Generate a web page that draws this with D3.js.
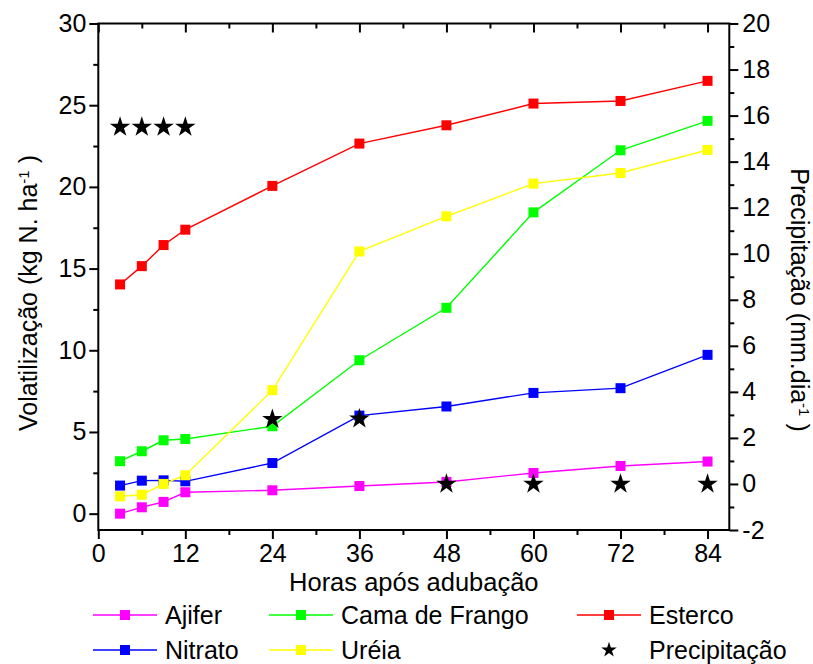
<!DOCTYPE html>
<html>
<head>
<meta charset="utf-8">
<script src="https://cdn.jsdelivr.net/npm/d3@7"></script>
<style>
  body { margin: 0; background: #fff; }
  svg { display: block; font-family: "Liberation Sans", Arial, sans-serif; }
</style>
</head>
<body>
<svg id="chart" width="813" height="664"></svg>
<script>
const width = 813;
const height = 664;
const margin = { top: 23.5, right: 84, bottom: 134, left: 98.3 };

// horas após adubação
const horas = [3, 6, 9, 12, 24, 36, 48, 60, 72, 84];
const ajifer = [0, 0.39, 0.72, 1.31, 1.43, 1.69, 1.94, 2.49, 2.92, 3.19];
const camaFrango = [3.21, 3.82, 4.49, 4.57, 5.35, 9.39, 12.6, 18.44, 22.24, 24.04];
const esterco = [14.03, 15.15, 16.44, 17.38, 20.06, 22.65, 23.77, 25.1, 25.26, 26.49];
const nitrato = [1.72, 2.02, 2.04, 1.98, 3.1, 6.0, 6.56, 7.39, 7.68, 9.72];
const ureia = [1.06, 1.16, 1.82, 2.35, 7.56, 16.05, 18.2, 20.2, 20.85, 22.26];
const precipitacao = [15.5, 15.5, 15.5, 15.5, 2.81, 2.83, 0, 0, 0, 0];

const xTicks = [0, 12, 24, 36, 48, 60, 72, 84];
const xMinor = [6, 18, 30, 42, 54, 66, 78];
const yTicks = [0, 5, 10, 15, 20, 25, 30];
const yMinor = [2.5, 7.5, 12.5, 17.5, 22.5, 27.5];
const y2Ticks = [-2, 0, 2, 4, 6, 8, 10, 12, 14, 16, 18, 20];
const y2Minor = [-1, 1, 3, 5, 7, 9, 11, 13, 15, 17, 19];

const series = [
  { name: "Ajifer", values: ajifer, color: "#ff00ff" },
  { name: "Cama de Frango", values: camaFrango, color: "#00ff00" },
  { name: "Esterco", values: esterco, color: "#ff0000" },
  { name: "Nitrato", values: nitrato, color: "#0000ff" },
  { name: "Uréia", values: ureia, color: "#ffff00" }
];

const svg = d3.select("#chart");
const plotR = 729.3;
const plotB = 530;

const x = d3.scaleLinear().domain([0, 87]).range([margin.left, plotR]);
const y = d3.scaleLinear().domain([-1, 30]).range([plotB, margin.top]);
const y2 = d3.scaleLinear().domain([-2, 20]).range([plotB, margin.top]);

const styleAxis = g => {
  g.select(".domain").remove();
  g.selectAll(".tick line").attr("stroke", "#000").attr("stroke-width", 2);
  g.selectAll(".tick text")
    .attr("fill", "#000")
    .style("font-size", "25px")
    .style("font-family", "'Liberation Sans', Arial, sans-serif");
};

// eixo inferior
svg.append("g")
  .attr("transform", `translate(0,${plotB})`)
  .call(d3.axisBottom(x).tickValues(xTicks).tickSize(9).tickPadding(5))
  .call(styleAxis);
svg.append("g")
  .attr("transform", `translate(0,${plotB})`)
  .call(d3.axisBottom(x).tickValues(xMinor).tickSize(5).tickFormat(""))
  .call(styleAxis);

// eixo superior (ticks para dentro)
svg.append("g")
  .attr("transform", `translate(0,${margin.top})`)
  .call(d3.axisBottom(x).tickValues(xTicks).tickSize(9).tickFormat(""))
  .call(styleAxis);
svg.append("g")
  .attr("transform", `translate(0,${margin.top})`)
  .call(d3.axisBottom(x).tickValues(xMinor).tickSize(5).tickFormat(""))
  .call(styleAxis);

// eixo esquerdo
svg.append("g")
  .attr("transform", `translate(${margin.left},0)`)
  .call(d3.axisLeft(y).tickValues(yTicks).tickSize(9).tickPadding(3))
  .call(styleAxis);
svg.append("g")
  .attr("transform", `translate(${margin.left},0)`)
  .call(d3.axisLeft(y).tickValues(yMinor).tickSize(5).tickFormat(""))
  .call(styleAxis);

// eixo direito
svg.append("g")
  .attr("transform", `translate(${plotR},0)`)
  .call(d3.axisRight(y2).tickValues(y2Ticks).tickSize(9).tickPadding(4)
    .tickFormat(d => d < 0 ? "-" + Math.abs(d) : d))
  .call(styleAxis);
svg.append("g")
  .attr("transform", `translate(${plotR},0)`)
  .call(d3.axisRight(y2).tickValues(y2Minor).tickSize(5).tickFormat(""))
  .call(styleAxis);

// moldura
svg.append("rect")
  .attr("x", margin.left)
  .attr("y", margin.top)
  .attr("width", plotR - margin.left)
  .attr("height", plotB - margin.top)
  .attr("fill", "none")
  .attr("stroke", "#000")
  .attr("stroke-width", 2);

// títulos dos eixos
svg.append("text")
  .attr("x", (margin.left + plotR) / 2)
  .attr("y", 591)
  .attr("text-anchor", "middle")
  .style("font-size", "25.5px")
  .text("Horas após adubação");

const yTitle = svg.append("text")
  .attr("transform", "translate(37,293) rotate(-90)")
  .attr("text-anchor", "middle")
  .style("font-size", "25px");
yTitle.append("tspan").text("Volatilização (kg N. ha");
yTitle.append("tspan").attr("dy", "-0.55em").style("font-size", "15px").text("-1");
yTitle.append("tspan").attr("dy", "0.33em").text(" )");

const y2Title = svg.append("text")
  .attr("transform", "translate(791,300) rotate(90)")
  .attr("text-anchor", "middle")
  .style("font-size", "25px");
y2Title.append("tspan").text("Precipitação (mm.dia");
y2Title.append("tspan").attr("dy", "-0.55em").style("font-size", "15px").text("-1");
y2Title.append("tspan").attr("dy", "0.33em").text(" )");

// séries
const line = d3.line().x((d, i) => x(horas[i])).y(d => y(d));
const sq = 10;

series.forEach(s => {
  svg.append("path")
    .datum(s.values)
    .attr("d", line)
    .attr("fill", "none")
    .attr("stroke", s.color)
    .attr("stroke-width", 1.4);
});
series.forEach(s => {
  svg.append("g").selectAll("rect")
    .data(s.values)
    .join("rect")
    .attr("x", (d, i) => x(horas[i]) - sq / 2)
    .attr("y", d => y(d) - sq / 2)
    .attr("width", sq)
    .attr("height", sq)
    .attr("fill", s.color);
});

// precipitação (estrelas)
const star = d3.symbol().type(d3.symbolStar).size(130);
svg.append("g").selectAll("path")
  .data(precipitacao)
  .join("path")
  .attr("d", star)
  .attr("transform", (d, i) => `translate(${x(horas[i])},${y2(d)})`)
  .attr("fill", "#000");

// legenda
const legendItems = [
  { name: "Ajifer", color: "#ff00ff", lx: 93, ty: 615 },
  { name: "Cama de Frango", color: "#00ff00", lx: 269, ty: 615 },
  { name: "Esterco", color: "#ff0000", lx: 577, ty: 615 },
  { name: "Nitrato", color: "#0000ff", lx: 93, ty: 650 },
  { name: "Uréia", color: "#ffff00", lx: 269, ty: 650 },
  { name: "Precipitação", color: null, lx: 577, ty: 650 }
];

const legend = svg.append("g");
legendItems.forEach(it => {
  const g = legend.append("g").attr("transform", `translate(${it.lx},${it.ty})`);
  if (it.color) {
    g.append("line").attr("x1", 0).attr("x2", 64).attr("y1", 0).attr("y2", 0)
      .attr("stroke", it.color).attr("stroke-width", 1.4);
    g.append("rect").attr("x", 32 - sq / 2).attr("y", -sq / 2)
      .attr("width", sq).attr("height", sq).attr("fill", it.color);
  } else {
    g.append("path").attr("d", d3.symbol().type(d3.symbolStar).size(75))
      .attr("transform", "translate(32,0)").attr("fill", "#000");
  }
  g.append("text")
    .attr("x", 72)
    .attr("y", 9)
    .style("font-size", "25px")
    .text(it.name);
});
</script>
</body>
</html>
